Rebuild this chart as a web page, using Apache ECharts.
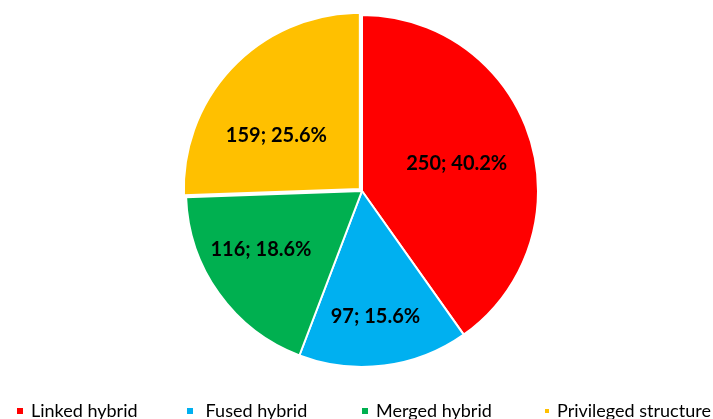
<!DOCTYPE html>
<html>
<head>
<meta charset="utf-8">
<script src="https://cdn.jsdelivr.net/npm/echarts@6/dist/echarts.min.js"></script>
<style>
  html, body { margin: 0; padding: 0; background: #fff; }
  #main { width: 713px; height: 419px; }
</style>
</head>
<body>
<div id="main"></div>
<script>
// data
const categories = ["Linked hybrid", " Fused hybrid", "Merged hybrid", "Privileged structure"];
const counts = [250, 97, 116, 159];

// styling
const colors = ["#FF0000", "#00B0F0", "#00B050", "#FFC000"];
const labelOffsets = [[8, 0], [2, 35], [-27, 6], [-18, 10]];
const legendLeft = [10, 180, 355, 538];
const legendMarker = [8, 8, 8, 6];

const myChart = echarts.init(document.getElementById("main"));

const total = counts.reduce((a, b) => a + b, 0);
const datas = [];
for (let i = 0; i < categories.length; i++) {
  datas.push({
    name: categories[i],
    value: counts[i],
    selected: i === 3,
    itemStyle: { color: colors[i] },
    label: { offset: labelOffsets[i] },
    select: { label: { offset: labelOffsets[i] } },
  });
}

const legends = categories.map((name, i) => ({
  data: [name],
  left: legendLeft[i],
  top: 397,
  orient: "horizontal",
  itemWidth: legendMarker[i],
  itemHeight: legendMarker[i],
  icon: "rect",
  itemGap: 0,
  selectedMode: false,
  textStyle: { fontFamily: "Lato", fontSize: 18, color: "#000", padding: [0, 0, 0, 2] },
}));

const option = {
  backgroundColor: "#fff",
  animation: false,
  legend: legends,
  series: [
    {
      type: "pie",
      center: [362, 191],
      radius: 176,
      startAngle: 90,
      clockwise: true,
      selectedMode: "single",
      selectedOffset: 3,
      itemStyle: { borderColor: "#fff", borderWidth: 2 },
      label: {
        show: true,
        position: "inside",
        color: "#000",
        fontFamily: "Lato",
        fontWeight: "bold",
        fontSize: 20,
        formatter: (p) => p.value + "; " + ((p.value / total) * 100).toFixed(1) + "%",
      },
      labelLine: { show: false },
      emphasis: { disabled: true },
      data: datas,
    },
  ],
};

myChart.setOption(option);
</script>
</body>
</html>
